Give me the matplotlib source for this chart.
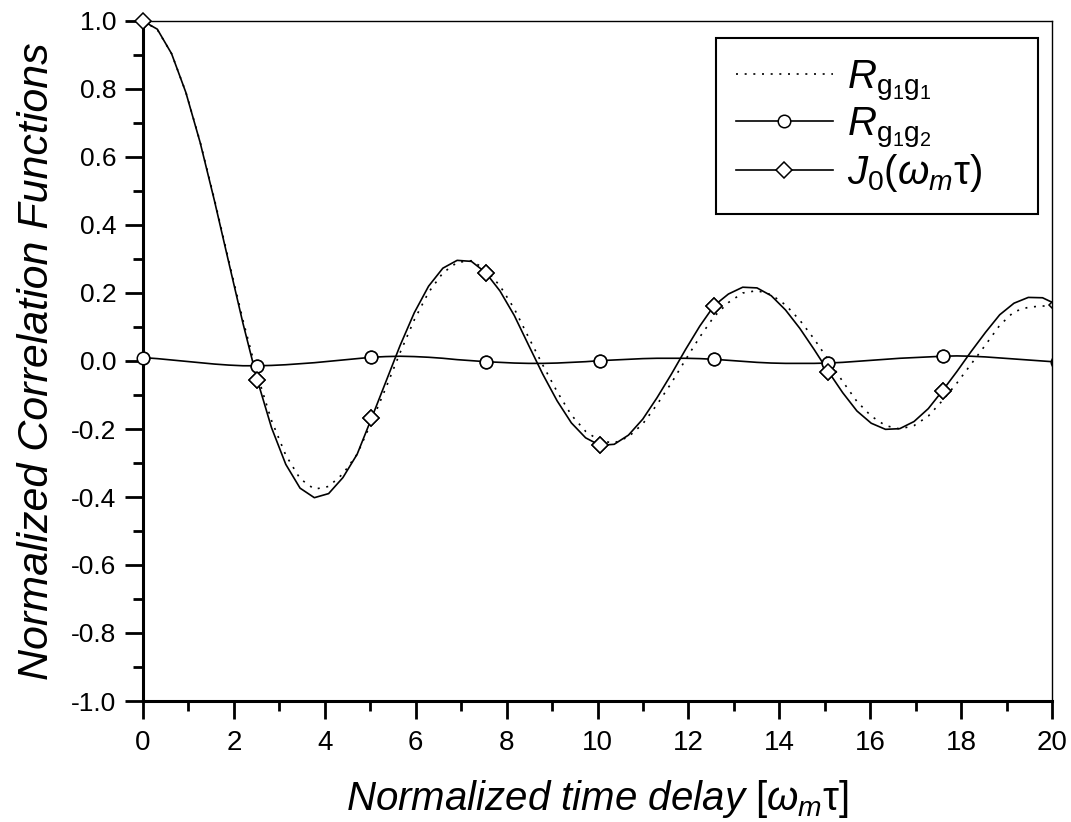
import matplotlib
matplotlib.use('Agg')
import matplotlib.pyplot as plt
import numpy as np
from matplotlib.ticker import MultipleLocator, FormatStrFormatter

plt.rcParams['font.family'] = ['Liberation Sans', 'DejaVu Sans']
plt.rcParams['axes.unicode_minus'] = False
plt.rcParams['mathtext.fontset'] = 'custom'
plt.rcParams['mathtext.rm'] = 'Liberation Sans'
plt.rcParams['mathtext.it'] = 'Liberation Sans:italic'

# sample spacing of the curves (pi/10), markers every 8 samples
step = 0.31416
n_pts = 65

# R_g1g1 (dotted)
r11 = [1.000, 0.975, 0.904, 0.791, 0.645, 0.476, 0.296, 0.120, -0.040, -0.175,
       -0.277, -0.346, -0.377, -0.369, -0.332, -0.274, -0.180, -0.080, 0.024, 0.121,
       0.202, 0.259, 0.290, 0.295, 0.269, 0.221, 0.154, 0.070, -0.012, -0.090,
       -0.159, -0.207, -0.235, -0.241, -0.223, -0.185, -0.128, -0.065, 0.004, 0.071,
       0.131, 0.172, 0.200, 0.207, 0.195, 0.165, 0.120, 0.065, 0.003, -0.060,
       -0.119, -0.162, -0.190, -0.200, -0.190, -0.162, -0.116, -0.065, -0.009, 0.047,
       0.105, 0.145, 0.158, 0.162, 0.158]

# R_g1g2 (circles)
r12 = [0.010, 0.007, 0.003, -0.001, -0.005, -0.009, -0.012, -0.014, -0.014, -0.013,
       -0.011, -0.008, -0.005, -0.001, 0.003, 0.007, 0.011, 0.013, 0.014, 0.013,
       0.011, 0.008, 0.004, 0.001, -0.002, -0.004, -0.006, -0.007, -0.007, -0.006,
       -0.004, -0.002, 0.001, 0.003, 0.005, 0.007, 0.008, 0.008, 0.008, 0.007,
       0.005, 0.002, -0.001, -0.004, -0.006, -0.007, -0.007, -0.007, -0.006, -0.004,
       -0.001, 0.002, 0.005, 0.008, 0.010, 0.012, 0.014, 0.015, 0.014, 0.012,
       0.009, 0.006, 0.003, 0.000, -0.003]

# J0(w_m tau) (diamonds)
j0 = [1.000, 0.976, 0.904, 0.790, 0.643, 0.472, 0.291, 0.111, -0.055, -0.196,
      -0.304, -0.374, -0.402, -0.390, -0.343, -0.274, -0.169, -0.062, 0.045, 0.142,
      0.220, 0.273, 0.296, 0.293, 0.260, 0.206, 0.134, 0.047, -0.039, -0.117,
      -0.182, -0.226, -0.248, -0.245, -0.218, -0.171, -0.108, -0.039, 0.034, 0.103,
      0.163, 0.197, 0.217, 0.215, 0.192, 0.150, 0.096, 0.034, -0.031, -0.093,
      -0.147, -0.183, -0.201, -0.199, -0.178, -0.140, -0.087, -0.031, 0.028, 0.084,
      0.136, 0.170, 0.187, 0.186, 0.166]

x = np.arange(n_pts) * step

fig = plt.figure(figsize=(10.71, 8.22), dpi=100)
ax = fig.add_axes([143/1071, 1-701/822, (1052-143)/1071, (701-21)/822])

circ = dict(marker='o', ms=9, mfc='white', mec='black', mew=1.1)
diam = dict(marker='D', ms=8, mfc='white', mec='black', mew=1.1)

ax.plot(x, r11, color='black', lw=1.2, ls=(0, (1.2, 4.0)),
        label=r'$\mathit{R}_{\mathrm{g}_1\mathrm{g}_1}$')
ax.plot(x, r12, color='black', lw=1.2, markevery=8, **circ,
        label=r'$\mathit{R}_{\mathrm{g}_1\mathrm{g}_2}$')
ax.plot(x, j0, color='black', lw=1.2, markevery=8, **diam,
        label=r'$\mathit{J}_{\mathit{0}}\mathrm{(}\mathit{\omega}_{\mathit{m}}\mathrm{\tau)}$')
# markers drawn again unclipped so the ones on the spine show whole
mk = slice(0, 57, 8)
ax.plot(x[mk], np.array(r12)[mk], ls='none', clip_on=False, zorder=5, **circ)
ax.plot(x[mk], np.array(j0)[mk], ls='none', clip_on=False, zorder=5, **diam)

ax.set_xlim(0, 20)
ax.set_ylim(-1.0, 1.0)
ax.xaxis.set_major_locator(MultipleLocator(2))
ax.xaxis.set_minor_locator(MultipleLocator(1))
ax.yaxis.set_major_locator(MultipleLocator(0.2))
ax.yaxis.set_minor_locator(MultipleLocator(0.1))
ax.yaxis.set_major_formatter(FormatStrFormatter('%.1f'))

ax.tick_params(which='major', direction='out', length=13, width=2, pad=6)
ax.tick_params(which='minor', direction='out', length=7, width=2)
ax.tick_params(top=False, right=False, which='both')
ax.tick_params(axis='y', labelsize=19)
ax.tick_params(axis='x', labelsize=20, pad=8)

ax.spines['left'].set_linewidth(2.2)
ax.spines['bottom'].set_linewidth(2.2)
ax.spines['top'].set_linewidth(1.0)
ax.spines['right'].set_linewidth(1.0)

ax.set_ylabel('Normalized Correlation Functions', fontsize=31, style='italic', labelpad=10)
ax.set_xlabel(r'Normalized time delay $[\mathit{\omega}_{\mathit{m}}\mathrm{\tau}]$',
              fontsize=29, style='italic', labelpad=16)

leg = ax.legend(loc='upper left',
                bbox_to_anchor=(716/1071, 1-209/822, 322/1071, 171/822),
                bbox_transform=fig.transFigure, mode='expand', borderaxespad=0,
                fontsize=29, frameon=True, fancybox=False, edgecolor='black',
                framealpha=1, handlelength=2.4, handletextpad=0.35,
                labelspacing=0.05, borderpad=0.5)
leg.get_frame().set_linewidth(1.5)

fig.savefig('out.png', dpi=100)
